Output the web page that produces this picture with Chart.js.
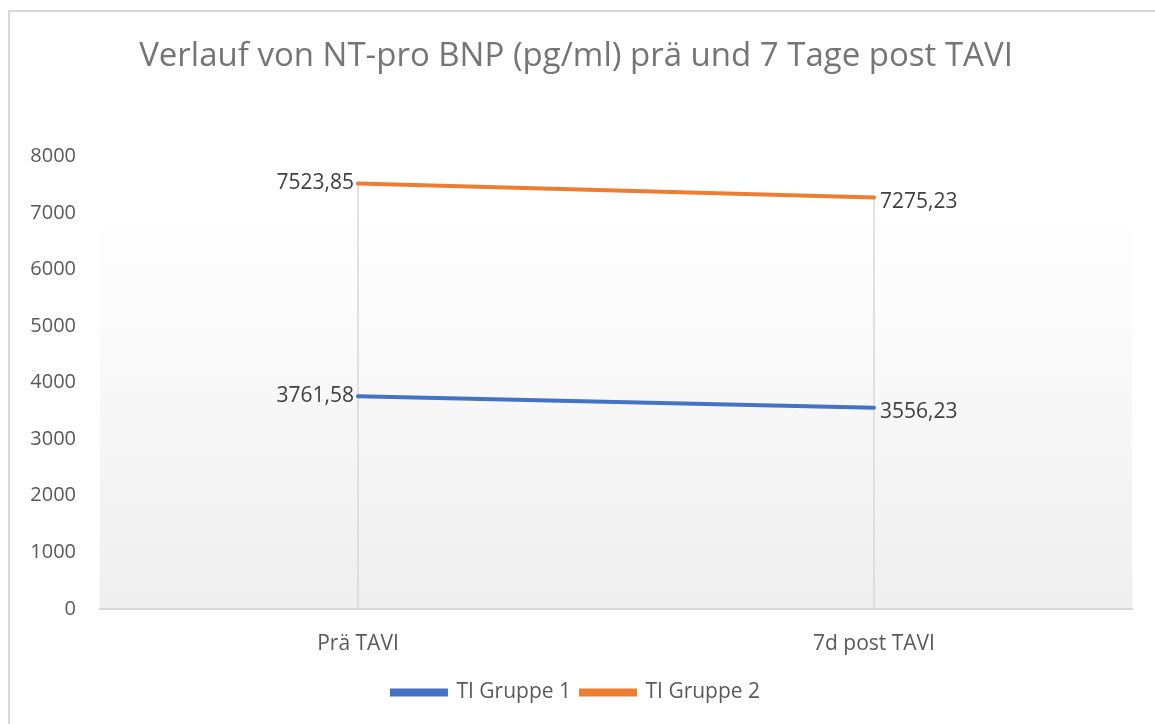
<!DOCTYPE html>
<html>
<head>
<meta charset="utf-8">
<script src="https://cdn.jsdelivr.net/npm/chart.js@4"></script>
<style>
  html, body { margin: 0; padding: 0; background: #fff; overflow: hidden; }
  #wrap { position: absolute; left: 0; top: 0; width: 1155px; height: 724px; }
  #frame { position: absolute; left: 8px; top: 10px; width: 1200px; height: 800px;
           border-left: 2px solid #d9d9d9; border-top: 2px solid #d9d9d9; pointer-events: none; }
</style>
</head>
<body>
<div id="wrap"><canvas id="bnpChart" width="1155" height="724"></canvas></div>
<div id="frame"></div>
<script>
// Verlauf NT-pro BNP, Werte aus der Grafik
const timepoints = ["Prä TAVI", "7d post TAVI"];
const gruppe1 = [3761.58, 3556.23];
const gruppe2 = [7523.85, 7275.23];
const seriesNames = ["TI Gruppe 1", "TI Gruppe 2"];
const yTicks = [0, 1000, 2000, 3000, 4000, 5000, 6000, 7000, 8000];

const fontFam = "'Open Sans', 'DejaVu Sans', sans-serif";

// plot area background: white on top fading to light grey
const plotBackground = {
    id: "plotBackground",
    beforeDraw(chart) {
        const { ctx, chartArea: a } = chart;
        const grad = ctx.createLinearGradient(0, a.top, 0, a.bottom);
        grad.addColorStop(0, "#ffffff");
        grad.addColorStop(0.12, "#ffffff");
        grad.addColorStop(1, "#efefef");
        ctx.save();
        ctx.fillStyle = grad;
        ctx.fillRect(a.left, a.top, a.right - a.left, a.bottom - a.top);
        ctx.restore();
    }
};

// drop lines from the highest point down to the x axis
const dropLines = {
    id: "dropLines",
    beforeDatasetsDraw(chart) {
        const ctx = chart.ctx;
        const bottom = chart.chartArea.bottom;
        const metas = chart.data.datasets.map((d, i) => chart.getDatasetMeta(i));
        ctx.save();
        ctx.strokeStyle = "#d9d9d9";
        ctx.lineWidth = 1.5;
        chart.data.labels.forEach((lab, j) => {
            const top = Math.min(...metas.map(m => m.data[j].y));
            const x = metas[0].data[j].x;
            ctx.beginPath();
            ctx.moveTo(x, top);
            ctx.lineTo(x, bottom);
            ctx.stroke();
        });
        ctx.restore();
    }
};

// value labels next to each point (German decimal comma)
const pointLabels = {
    id: "pointLabels",
    afterDatasetsDraw(chart) {
        const ctx = chart.ctx;
        ctx.save();
        ctx.font = "21px " + fontFam;
        ctx.fillStyle = "#404040";
        ctx.textBaseline = "middle";
        chart.data.datasets.forEach((ds, i) => {
            const meta = chart.getDatasetMeta(i);
            meta.data.forEach((pt, j) => {
                const txt = ds.data[j].toFixed(2).replace(".", ",");
                if (j === 0) {
                    ctx.textAlign = "right";
                    ctx.fillText(txt, pt.x - 4, pt.y);
                } else {
                    ctx.textAlign = "left";
                    ctx.fillText(txt, pt.x + 6, pt.y + 4);
                }
            });
        });
        ctx.restore();
    }
};

new Chart(document.getElementById("bnpChart"), {
    type: "line",
    data: {
        labels: timepoints,
        datasets: [{
            label: seriesNames[0],
            data: gruppe1,
            borderColor: "#4472c4",
            backgroundColor: "#4472c4",
            borderWidth: 4,
            pointRadius: 0,
            borderCapStyle: "round"
        }, {
            label: seriesNames[1],
            data: gruppe2,
            borderColor: "#ed7d31",
            backgroundColor: "#ed7d31",
            borderWidth: 4,
            pointRadius: 0,
            borderCapStyle: "round"
        }]
    },
    options: {
        responsive: false,
        animation: false,
        layout: { padding: { top: 37, left: 20, right: 23, bottom: 11 } },
        plugins: {
            title: {
                display: true,
                text: "Verlauf von NT-pro BNP (pg/ml) prä und 7 Tage post TAVI",
                color: "#757575",
                font: { family: fontFam, size: 33, weight: "normal" },
                padding: { top: 0, bottom: 80 }
            },
            legend: {
                position: "bottom",
                labels: {
                    color: "#595959",
                    font: { family: fontFam, size: 21 },
                    boxWidth: 54,
                    boxHeight: 4,
                    padding: 10
                }
            },
            tooltip: { enabled: false }
        },
        scales: {
            x: {
                offset: true,
                grid: { display: false },
                border: { display: true, color: "#d9d9d9", width: 2 },
                ticks: { color: "#595959", font: { family: fontFam, size: 21 }, padding: 15 }
            },
            y: {
                min: 0,
                max: 8000,
                afterBuildTicks(scale) {
                    scale.ticks = yTicks.map(v => ({ value: v }));
                },
                grid: { display: false, drawTicks: false },
                border: { display: false },
                ticks: {
                    color: "#595959",
                    font: { family: fontFam, size: 20 },
                    padding: 24,
                    callback: v => String(v)
                },
                afterFit(scale) { scale.width = 80; }
            }
        }
    },
    plugins: [plotBackground, dropLines, pointLabels]
});
</script>
</body>
</html>
